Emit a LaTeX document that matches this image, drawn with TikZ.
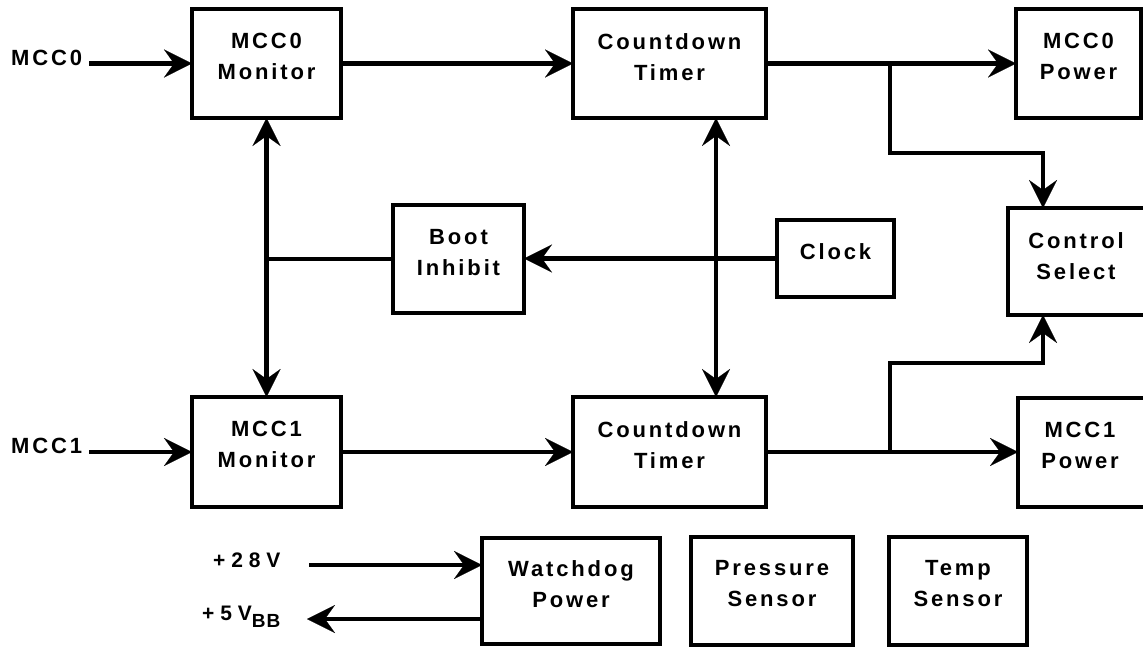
\documentclass[tikz,border=0pt]{standalone}
\usepackage{fontspec}
\setmainfont{Liberation Sans}[LetterSpace=13]
\usetikzlibrary{arrows.meta}
\begin{document}
\begin{tikzpicture}[x=1pt,y=-1pt,
  blk/.style={draw, line width=4.2pt, inner sep=0pt, outer sep=0pt},
  lbl/.style={font=\fontsize{22}{31}\selectfont\bfseries, align=center, inner sep=0pt, anchor=north},
  side/.style={font=\fontsize{22}{25}\selectfont\bfseries, inner sep=0pt, anchor=base west},
  wire/.style={line width=4.2pt},
  tip/.style={-{Stealth[length=28pt,width=28pt,inset=10pt,line width=0.1pt]}},
  both/.style={{Stealth[length=28pt,width=28pt,inset=10pt,line width=0.1pt]}-{Stealth[length=28pt,width=28pt,inset=10pt,line width=0.1pt]}}]
\useasboundingbox (0,0) rectangle (1143,647);

% boxes
\node[blk, minimum width=149pt, minimum height=109pt] (m0) at (266.5,63.5) {};
\node[lbl] (m0t) at ([yshift=-24pt]m0.north) {MCC0\\Monitor};
\node[blk, minimum width=193pt, minimum height=109pt] (ct0) at (669.5,63.5) {};
\node[lbl] (ct0t) at ([yshift=-24pt]ct0.north) {Countdown\\Timer};
\node[blk, minimum width=125pt, minimum height=109pt] (p0) at (1078.5,63.5) {};
\node[lbl] (p0t) at ([yshift=-24pt]p0.north) {MCC0\\Power};
\node[blk, minimum width=131pt, minimum height=108pt] (boot) at (458.5,259) {};
\node[lbl] (boott) at ([yshift=-24pt]boot.north) {Boot\\Inhibit};
\node[blk, minimum width=117pt, minimum height=77pt] (clk) at (835.5,258.5) {};
\node[lbl] (clkt) at ([yshift=-23pt]clk.north) {Clock};
\node[blk, minimum width=142pt, minimum height=107pt] (cs) at (1079,261.5) {};
\node[lbl] (cst) at ([yshift=-24pt,xshift=-3pt]cs.north) {Control\\Select};
\node[blk, minimum width=149pt, minimum height=110pt] (m1) at (266.5,452) {};
\node[lbl] (m1t) at ([yshift=-24pt]m1.north) {MCC1\\Monitor};
\node[blk, minimum width=193pt, minimum height=110pt] (ct1) at (669.5,452) {};
\node[lbl] (ct1t) at ([yshift=-24pt]ct1.north) {Countdown\\Timer};
\node[blk, minimum width=128pt, minimum height=109pt] (p1) at (1082,452.5) {};
\node[lbl] (p1t) at ([yshift=-24pt,xshift=-2pt]p1.north) {MCC1\\Power};
\node[blk, minimum width=178pt, minimum height=106pt] (wd) at (571,591) {};
\node[lbl] (wdt) at ([yshift=-22pt]wd.north) {Watchdog\\Power};
\node[blk, minimum width=162pt, minimum height=108pt] (ps) at (772,591) {};
\node[lbl] (pst) at ([yshift=-23pt]ps.north) {Pressure\\Sensor};
\node[blk, minimum width=138pt, minimum height=108pt] (tmp) at (958,591) {};
\node[lbl] (tmpt) at ([yshift=-23pt]tmp.north) {Temp\\Sensor};

% side labels
\node[side] (mcc0) at (11,66) {MCC0};
\node[side] (mcc1) at (11,453) {MCC1};
\node[side, font=\fontsize{21}{25}\selectfont\bfseries\addfontfeature{LetterSpace=28}] (v28t) at (213,567) {+28V};
\node[side, font=\fontsize{21}{25}\selectfont\bfseries\addfontfeature{LetterSpace=28}] (v5t) at (202,620) {+5V\raisebox{-7pt}{\fontsize{19}{19}\selectfont\addfontfeature{LetterSpace=5}BB}};

% free ends
\coordinate (in0) at (89,63.5);
\coordinate (in1) at (89,452);
\coordinate (br0) at (890,63.5);
\coordinate (br1) at (890,452);
\coordinate (v28) at (309,565);
\coordinate (v5) at (307,619);

% connectors
\draw[wire,tip] (in0) -- (m0.west);
\draw[wire,tip] (m0.east) -- (ct0.west);
\draw[wire,tip] (ct0.east) -- (p0.west);
\draw[wire,tip] (br0) -- (890,153) -| ([xshift=-36pt]cs.north);
\draw[wire,tip] (in1) -- (m1.west);
\draw[wire,tip] (m1.east) -- (ct1.west);
\draw[wire,tip] (ct1.east) -- (ct1.east -| p1.west);
\draw[wire,tip] (br1) -- (890,363) -| ([xshift=-36pt]cs.south);
\draw[wire,both] (m0.south) -- (m1.north);
\draw[wire] (boot.west) -- (boot.west -| m0.south);
\draw[wire,both] ([xshift=46.5pt]ct0.south) -- ([xshift=46.5pt]ct1.north);
\draw[wire,tip] (clk.west) -- (clk.west -| boot.east);
\draw[wire,tip] (v28) -- (v28 -| wd.west);
\draw[wire,tip] (v5 -| wd.west) -- (v5);
\end{tikzpicture}
\end{document}
